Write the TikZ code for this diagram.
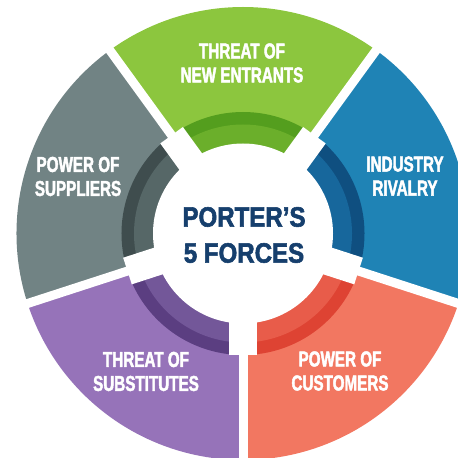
\documentclass[tikz,border=0pt]{standalone}
\usepackage{fontspec}
\newfontfamily\lblfont{Liberation Sans Bold}[FakeStretch=0.705, FakeBold=2]
\newfontfamily\ctrfont{Liberation Sans Bold}[FakeStretch=0.86, FakeBold=2]
\definecolor{gO}{HTML}{8CC63E}
\definecolor{gL}{HTML}{6BAF2B}
\definecolor{gD}{HTML}{549E1E}
\definecolor{bO}{HTML}{1F83B5}
\definecolor{bL}{HTML}{17679C}
\definecolor{bD}{HTML}{0F4F80}
\definecolor{oO}{HTML}{F27761}
\definecolor{oL}{HTML}{E85C4A}
\definecolor{oD}{HTML}{DE4333}
\definecolor{pO}{HTML}{9673B9}
\definecolor{pL}{HTML}{735799}
\definecolor{pD}{HTML}{5B3E81}
\definecolor{sO}{HTML}{718384}
\definecolor{sL}{HTML}{566767}
\definecolor{sD}{HTML}{3F4D4E}
\definecolor{ctr}{HTML}{163F6D}
\tikzset{
  lbl/.style={text=white, align=center, inner sep=0pt,
    font=\lblfont\fontsize{21.6}{24}\selectfont},
  ctrlbl/.style={text=ctr, align=center, inner sep=0pt,
    font=\ctrfont\fontsize{28}{36}\selectfont}
}
\begin{document}
\begin{tikzpicture}[x=1pt,y=1pt]
\useasboundingbox (0,0) rectangle (458,458);
\clip (0,0) rectangle (458,458);
\coordinate (c) at (243,224.5);
% outer pieces
\foreach \a/\co/\cl/\cd in {90/gO/gL/gD, 18/bO/bL/bD, -54/oO/oL/oD, -126/pO/pL/pD, 162/sO/sL/sD} {
  \pgfmathsetmacro{\s}{\a-36}
  \pgfmathsetmacro{\e}{\a+36}
  \fill[\co] (c) -- ++(\s:226.5pt) arc[start angle=\s, end angle=\e, radius=226.5pt] -- cycle;
  \fill[\cd] (c) -- ++(\s:121.5pt) arc[start angle=\s, end angle=\e, radius=121.5pt] -- cycle;
  \fill[\cl] (c) -- ++(\s:109pt) arc[start angle=\s, end angle=\e, radius=109pt] -- cycle;
}
% gaps
\foreach \g in {54,126,198,270,342} {
  \draw[white, line width=9pt] (c) -- ++(\g:260pt);
  \draw[white, line width=28pt] (c) -- ++(\g:121.5pt);
}
\fill[white] (c) circle[radius=90pt];
% labels
\node[lbl] (newent) at (242,395) {THREAT OF\\NEW ENTRANTS};
\node[lbl] (rival) at (405,282) {INDUSTRY\\RIVALRY};
\node[lbl] (cust) at (340,87) {POWER OF\\CUSTOMERS};
\node[lbl] (subst) at (146,86.5) {THREAT OF\\SUBSTITUTES};
\node[lbl] (supp) at (78,281.5) {POWER OF\\SUPPLIERS};
\node[ctrlbl] (title) at (244,223) {PORTER’S\\5 FORCES};
\end{tikzpicture}
\end{document}
